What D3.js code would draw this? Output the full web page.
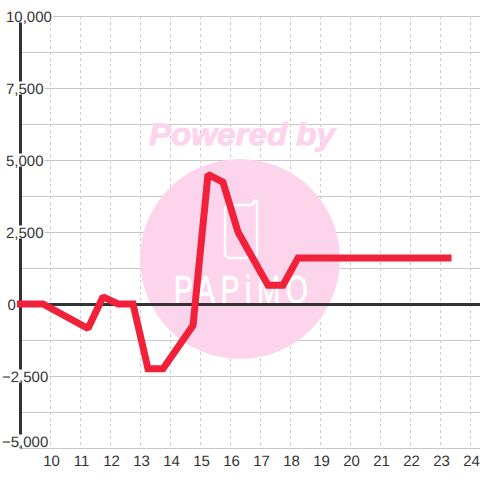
<!DOCTYPE html>
<html><head><meta charset="utf-8">
<script src="https://cdn.jsdelivr.net/npm/d3@7"></script>
<style>html,body{margin:0;padding:0;background:#fff}svg{display:block}text{font-family:"Liberation Sans",Arial,sans-serif;text-rendering:geometricPrecision}</style>
</head><body><svg id="c" width="480" height="480"></svg>
<script>
const xTicks=[10,11,12,13,14,15,16,17,18,19,20,21,22,23,24];
const yMajor=[10000,7500,5000,2500,0,-2500,-5000];
const yMinor=[8750,6250,3750,1250,-1250,-3750];
const lineX=[9,9.75,11.25,11.75,12.25,12.75,13.25,13.75,14.75,15.25,15.75,16.25,17.25,17.75,18.25,23.25];
const lineY=[0,0,-850,250,0,0,-2250,-2250,-750,4500,4230,2500,650,650,1600,1600];
const watermark="Powered by";
const logoText="PAPiMO";
const svg=d3.select("#c");
const x=d3.scaleLinear().domain([10,24]).range([50.5,470.5]);
const y=d3.scaleLinear().domain([-5000,10000]).range([448,16]);
const fmt=d3.format(",");
// horizontal grid
svg.append("g").selectAll("line").data(yMinor.concat(yMajor.filter(d=>d!==0))).join("line")
 .attr("x1",20).attr("x2",480).attr("y1",d=>y(d)+.5).attr("y2",d=>y(d)+.5)
 .attr("stroke","#c8c8c8").attr("stroke-width",1.2);
// vertical grid
svg.append("g").selectAll("line").data(xTicks).join("line")
 .attr("x1",d=>x(d)).attr("x2",d=>x(d)).attr("y1",16).attr("y2",448)
 .attr("stroke","#cccccc").attr("stroke-dasharray","3,3");
// watermark
svg.append("circle").attr("cx",240).attr("cy",259).attr("r",100).attr("fill","#fcd5ec");
svg.append("text").attr("x",242).attr("y",145).attr("text-anchor","middle")
 .attr("font-size",31).attr("font-weight","bold").attr("font-style","italic")
 .attr("fill","#fcd5ec").attr("stroke","#fcd5ec").attr("stroke-width",1)
 .attr("textLength",186).attr("lengthAdjust","spacingAndGlyphs").text(watermark);
svg.append("path").attr("d","M225 210 a5 5 0 0 1 5 -5 h20 q4 0 4 -4 q2 -1 3 1 v51 a5 5 0 0 1 -5 5 h-22 a5 5 0 0 1 -5 -5 z")
 .attr("fill","none").attr("stroke","#fff").attr("stroke-width",2.5);
svg.append("text").attr("transform","translate(174,303) scale(0.72,1)").attr("font-size",39).attr("fill","#fff")
 .attr("stroke","#fff").attr("stroke-width",.7)
 .attr("textLength",186).attr("lengthAdjust","spacing").text(logoText);
// y axis and zero line
svg.append("line").attr("x1",20.5).attr("x2",20.5).attr("y1",16).attr("y2",448).attr("stroke","#333").attr("stroke-width",3);
svg.append("line").attr("x1",20).attr("x2",480).attr("y1",y(0)+.5).attr("y2",y(0)+.5).attr("stroke","#333").attr("stroke-width",3);
// y labels with white background
const yl=svg.append("g").selectAll("g").data(yMajor).join("g");
yl.append("text").attr("x",d=>d<0?2:d===0?7.5:6)
 .attr("y",d=>d===-5000?y(d)-1:y(d)+6)
 .attr("font-size",15).attr("fill","#333").text(d=>fmt(d));
yl.each(function(){const t=d3.select(this).select("text"),b=t.node().getBBox();
 d3.select(this).insert("rect","text").attr("x",b.x).attr("y",b.y+.5).attr("width",b.width+1).attr("height",13).attr("fill","#fff");});
// x labels
svg.append("g").selectAll("text").data(xTicks).join("text")
 .attr("x",d=>x(d)+1).attr("y",465.5).attr("text-anchor","middle").attr("font-size",15).attr("fill","#333").text(d=>d);
// line
svg.append("path").datum(lineX.map((d,i)=>[d,lineY[i]]))
 .attr("d",d3.line().x(d=>x(d[0])).y(d=>y(d[1])))
 .attr("fill","none").attr("stroke","#f02138").attr("stroke-width",7)
 .attr("stroke-linejoin","miter").attr("stroke-miterlimit",1.35).attr("stroke-linecap","square");
</script></body></html>
